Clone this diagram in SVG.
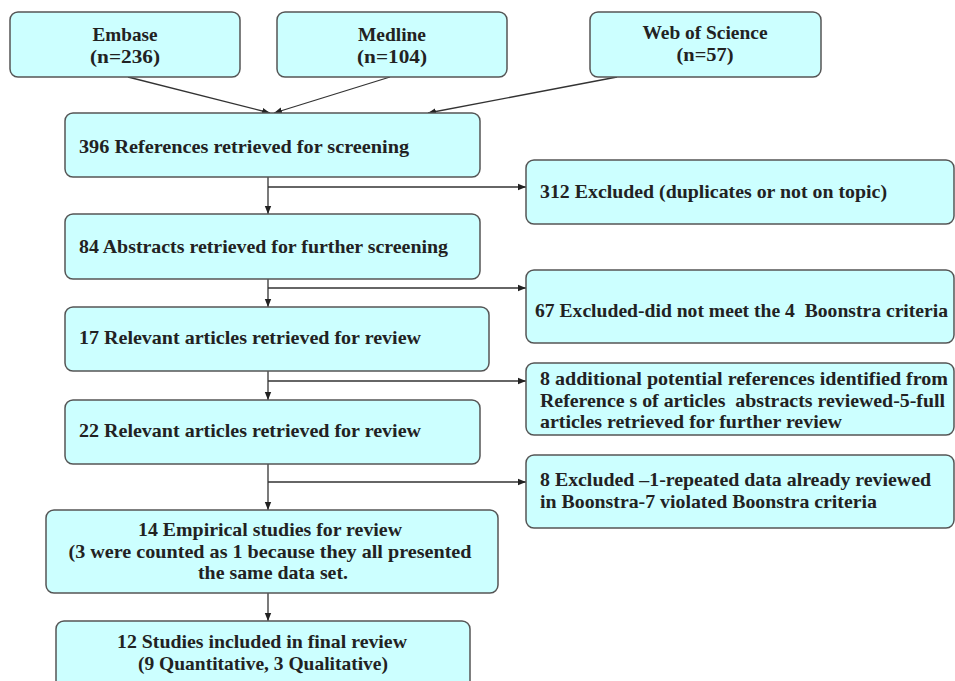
<svg xmlns="http://www.w3.org/2000/svg" width="955" height="681" viewBox="0 0 955 681">
<style>
.box{fill:#ccffff;stroke:#555;stroke-width:1.5}
.t{font-family:"Liberation Serif","Times New Roman",serif;font-weight:bold;font-size:19.5px;fill:#222;white-space:pre}
.c{text-anchor:middle}
.ln{stroke:#333;stroke-width:1.3;fill:none}
</style>
<defs>
<marker id="ah" viewBox="0 0 10 10" refX="10" refY="5" markerWidth="8" markerHeight="8" markerUnits="userSpaceOnUse" orient="auto">
<path d="M0,1 L10,5 L0,9 z" fill="#222"/>
</marker>
</defs>
<g id="connectors">
<line class="ln" x1="128" y1="77" x2="270" y2="113" marker-end="url(#ah)"/>
<line class="ln" x1="390" y1="77" x2="274" y2="113" marker-end="url(#ah)"/>
<line class="ln" x1="617" y1="77" x2="428" y2="113" marker-end="url(#ah)"/>
<line class="ln" x1="268" y1="177" x2="268" y2="214" marker-end="url(#ah)"/>
<line class="ln" x1="268" y1="187" x2="526" y2="187" marker-end="url(#ah)"/>
<line class="ln" x1="268" y1="279" x2="268" y2="307" marker-end="url(#ah)"/>
<line class="ln" x1="268" y1="288" x2="526" y2="288" marker-end="url(#ah)"/>
<line class="ln" x1="268" y1="371" x2="268" y2="400" marker-end="url(#ah)"/>
<line class="ln" x1="268" y1="381" x2="526" y2="381" marker-end="url(#ah)"/>
<line class="ln" x1="268" y1="464" x2="268" y2="510" marker-end="url(#ah)"/>
<line class="ln" x1="268" y1="482" x2="526" y2="482" marker-end="url(#ah)"/>
<line class="ln" x1="268" y1="593" x2="268" y2="621" marker-end="url(#ah)"/>
</g>
<g id="embase">
<rect class="box" x="10" y="12" width="230" height="65" rx="8"/>
<text class="t c" x="125" y="41" textLength="65" lengthAdjust="spacingAndGlyphs">Embase</text>
<text class="t c" x="125" y="63" textLength="70" lengthAdjust="spacingAndGlyphs">(n=236)</text>
</g>
<g id="medline">
<rect class="box" x="277" y="12" width="230" height="65" rx="8"/>
<text class="t c" x="392" y="41" textLength="68" lengthAdjust="spacingAndGlyphs">Medline</text>
<text class="t c" x="392" y="63" textLength="70" lengthAdjust="spacingAndGlyphs">(n=104)</text>
</g>
<g id="wos">
<rect class="box" x="590" y="12" width="231" height="65" rx="8"/>
<text class="t c" x="705" y="39" textLength="125" lengthAdjust="spacingAndGlyphs">Web of Science</text>
<text class="t c" x="705" y="61" textLength="57" lengthAdjust="spacingAndGlyphs">(n=57)</text>
</g>
<g id="n396">
<rect class="box" x="65" y="113" width="415" height="64" rx="8"/>
<text class="t" x="79" y="153" textLength="330" lengthAdjust="spacingAndGlyphs">396 References retrieved for screening</text>
</g>
<g id="ex312">
<rect class="box" x="526" y="160" width="428" height="64" rx="8"/>
<text class="t" x="540" y="198" textLength="347" lengthAdjust="spacingAndGlyphs">312 Excluded (duplicates or not on topic)</text>
</g>
<g id="n84">
<rect class="box" x="65" y="214" width="415" height="65" rx="8"/>
<text class="t" x="79" y="253" textLength="369" lengthAdjust="spacingAndGlyphs">84 Abstracts retrieved for further screening</text>
</g>
<g id="ex67">
<rect class="box" x="526" y="270" width="428" height="73" rx="8"/>
<text class="t" x="535" y="317" textLength="413" lengthAdjust="spacingAndGlyphs">67 Excluded-did not meet the 4  Boonstra criteria</text>
</g>
<g id="n17">
<rect class="box" x="65" y="307" width="424" height="64" rx="8"/>
<text class="t" x="79" y="344" textLength="342" lengthAdjust="spacingAndGlyphs">17 Relevant articles retrieved for review</text>
</g>
<g id="add8">
<rect class="box" x="526" y="363" width="428" height="72" rx="8"/>
<text class="t" x="540" y="385" textLength="408" lengthAdjust="spacingAndGlyphs">8 additional potential references identified from</text>
<text class="t" x="540" y="407" textLength="405" lengthAdjust="spacingAndGlyphs">Reference s of articles  abstracts reviewed-5-full</text>
<text class="t" x="540" y="428" textLength="302" lengthAdjust="spacingAndGlyphs">articles retrieved for further review</text>
</g>
<g id="n22">
<rect class="box" x="65" y="400" width="415" height="64" rx="8"/>
<text class="t" x="79" y="437" textLength="342" lengthAdjust="spacingAndGlyphs">22 Relevant articles retrieved for review</text>
</g>
<g id="ex8">
<rect class="box" x="526" y="455" width="428" height="73" rx="8"/>
<text class="t" x="540" y="486" textLength="391" lengthAdjust="spacingAndGlyphs">8 Excluded –1-repeated data already reviewed</text>
<text class="t" x="540" y="508" textLength="337" lengthAdjust="spacingAndGlyphs">in Boonstra-7 violated Boonstra criteria</text>
</g>
<g id="n14">
<rect class="box" x="46" y="510" width="452" height="83" rx="8"/>
<text class="t c" x="270" y="536" textLength="264" lengthAdjust="spacingAndGlyphs">14 Empirical studies for review</text>
<text class="t c" x="270" y="558" textLength="403" lengthAdjust="spacingAndGlyphs">(3 were counted as 1 because they all presented</text>
<text class="t c" x="273" y="579" textLength="150" lengthAdjust="spacingAndGlyphs">the same data set.</text>
</g>
<g id="n12">
<rect class="box" x="56" y="621" width="414" height="70" rx="8"/>
<text class="t c" x="262" y="648" textLength="290" lengthAdjust="spacingAndGlyphs">12 Studies included in final review</text>
<text class="t c" x="263" y="670" textLength="250" lengthAdjust="spacingAndGlyphs">(9 Quantitative, 3 Qualitative)</text>
</g>
</svg>
